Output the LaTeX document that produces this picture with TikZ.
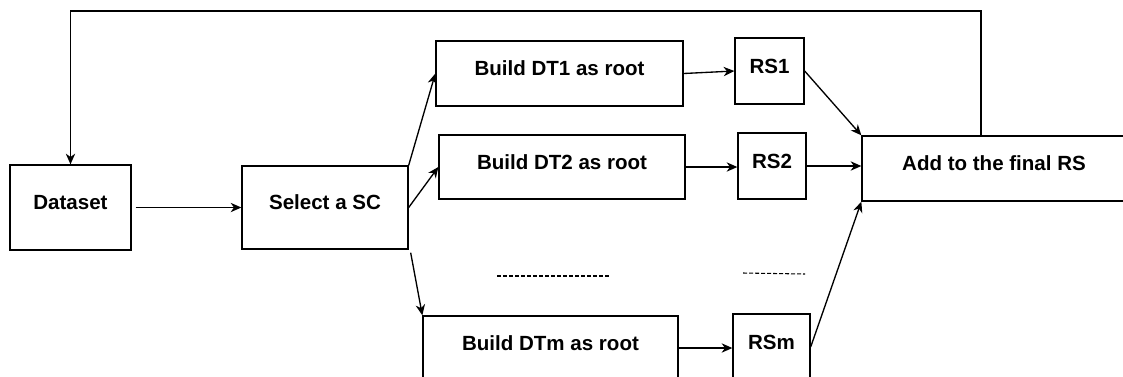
\documentclass[tikz,border=0pt]{standalone}
\usepackage{fontspec}
\setmainfont{Liberation Sans}
\usetikzlibrary{arrows.meta}

\tikzset{
	block/.style={draw, line width=1pt, inner sep=0pt, font=\fontsize{15.4pt}{18pt}\selectfont\bfseries, text height=11pt, text depth=7.5pt},
	link/.style={line width=1pt, -{Stealth[length=8pt,width=7pt,inset=2.5pt]}}
}

\begin{document}
\begin{tikzpicture}[x=0.75pt,y=-0.75pt]

					\clip (0,0) rectangle (1123,376);

					% boxes
					\node [block, minimum width=90.75pt, minimum height=63.75pt] (data) at (70.5,207.5) {Dataset};
					\node [block, minimum width=124.5pt, minimum height=62.25pt] (sel) at (325,207.5) {Select a SC};
					\node [block, minimum width=185.25pt, minimum height=48.75pt] (dt1) at (559.5,73.5) {Build DT1 as root};
					\node [block, minimum width=51.75pt, minimum height=49.5pt] (rs1) at (769.5,71) {RS1};
					\node [block, minimum width=184.5pt, minimum height=48pt] (dt2) at (562,167) {Build DT2 as root};
					\node [block, minimum width=51pt, minimum height=49.5pt] (rs2) at (772,166) {RS2};
					\node [block, minimum width=191.25pt, minimum height=48pt] (dtm) at (550.5,348) {Build DTm as root};
					\node [block, minimum width=57.75pt, minimum height=49.5pt] (rsm) at (771.5,347) {RSm};
					\node [block, minimum width=198pt, minimum height=48.75pt] (add) at (994,168.5) {Add to the final RS};

					% arrows
					\draw [link, shorten <=3pt] (data.east) -- (sel.west);
					\draw [link] (sel.north east) -- (dt1.west);
					\draw [link] (sel.east) -- (dt2.west);
					\draw [link] ([shift={(2,3)}]sel.south east) -- (dtm.north west);
					\draw [link] (dt1.east) -- (rs1.west);
					\draw [link] (dt2.east) -- (dt2.east -| rs2.west);
					\draw [link] (dtm.east) -- (dtm.east -| rsm.west);
					\draw [link] (rs1.east) -- (add.north west);
					\draw [link] (rs2.east) -- (rs2.east -| add.west);
					\draw [link] (rsm.east) -- (add.south west);

					% feedback loop
					\coordinate (top) at (981,11);
					\draw [link] (add.north -| top) -- (top) -| (data.north);

					% more trees
					\draw [line width=0.8pt, dash pattern=on 3pt off 1.5pt] (497,276) -- (611,276);
					\draw [line width=0.8pt, dash pattern=on 3pt off 1.5pt] (743,273) -- (805,274);

				\end{tikzpicture}
\end{document}
